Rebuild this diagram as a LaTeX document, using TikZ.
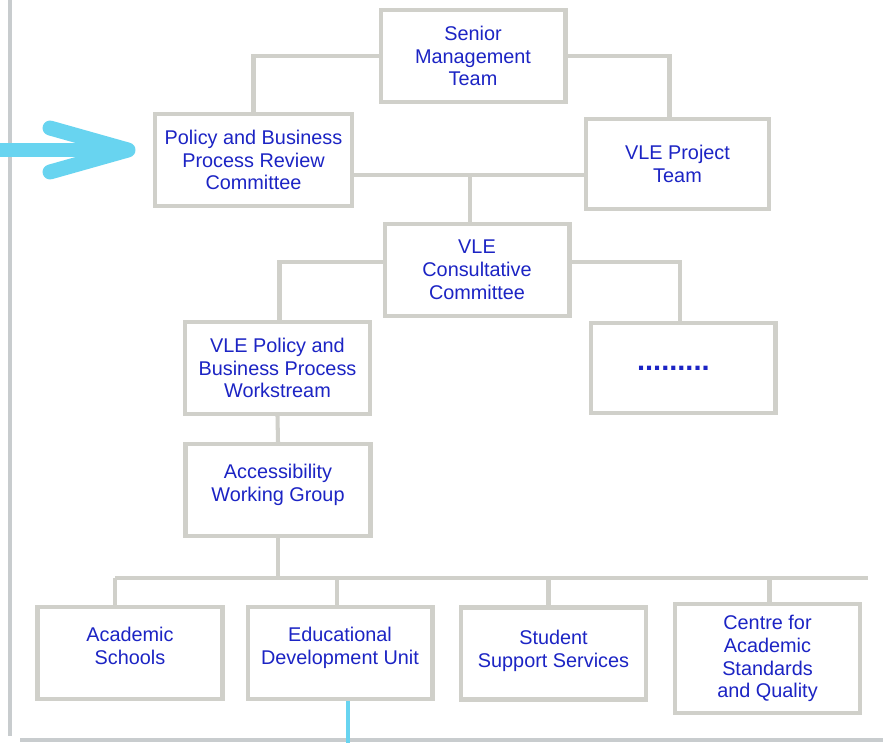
\documentclass[tikz,border=0pt]{standalone}
\usepackage{fontspec}
\setmainfont{Liberation Sans}
\usetikzlibrary{calc}
\definecolor{boxgrey}{RGB}{208,208,202}
\definecolor{rulegrey}{RGB}{200,204,206}
\definecolor{textblue}{RGB}{28,36,196}
\definecolor{pointer}{RGB}{104,212,240}
\tikzset{
  orgfig/.style={x=0.02cm,y=-0.02cm,
    every node/.style={font=\fontsize{11.3}{13}\selectfont,align=center,text=textblue}},
  unit/.style={draw=boxgrey,line width=2.3pt,fill=white,inner sep=2pt,
    minimum width=3.7cm,minimum height=1.84cm},
  orgline/.style={draw=boxgrey,line width=2.3pt},
  rulerline/.style={draw=rulegrey,line width=2pt},
  cyanline/.style={draw=pointer,line width=2.8pt},
  bigarrow/.style={draw=pointer,line width=8.5pt,line cap=round,line join=round},
}

\begin{document}
\begin{tikzpicture}[orgfig]
    \useasboundingbox[fill=white] (0,0) rectangle (883,743);
    % page rules and the pointer
    \draw[rulerline] (10,0) -- (10,736);
    \draw[rulerline] (20,740) -- (883,740);
    \draw[bigarrow] (-10,150) -- (126,150);
    \draw[bigarrow] (50,128) -- (128,150) -- (50,172);

    \node[unit] (smt) at (473,56) {Senior\\Management\\Team};
    \node[unit,minimum width=3.94cm] (pbrc) at (253.5,160)
      {Policy and Business\\Process Review\\Committee};
    \node[unit,minimum width=3.66cm,minimum height=1.8cm] (vpt) at (677.5,164)
      {VLE Project\\Team};
    \node[unit] (vcc) at (477,270) {VLE\\Consultative\\Committee};
    \node[unit] (wsp) at (277.5,368)
      {VLE Policy and\\Business Process\\Workstream};
    \node[unit,minimum height=1.8cm] (more) at (683,368)
      {\fontsize{16.5}{16}\selectfont\textbf{.........}\hspace{11pt}};
    \node[unit] (awg) at (278,490) {Accessibility\\Working Group\\[-5pt]};
    \node[unit] (acs) at (130,653) {Academic\\Schools\\[-5pt]};
    \node[unit] (edu) at (340,653) {Educational\\Development Unit\\[-5pt]};
    \node[unit] (sss) at (553.5,653.5) {Student\\Support Services\\[-8pt]};
    \node[unit,minimum height=2.18cm] (casq) at (767.5,658.5)
      {Centre for\\Academic\\Standards\\and Quality};

    \draw[orgline] (smt.west) -| (pbrc.north);
    \draw[orgline] (smt.east) -| ($(vpt.north)+(-8,0)$);
    \coordinate (mid) at (470,175);
    \draw[orgline] (pbrc.east |- mid) -- (vpt.west |- mid);
    \draw[orgline] (mid) -- (mid |- vcc.north);
    \draw[orgline] ($(vcc.west)+(0,-8)$) -| ($(wsp.north)+(2,0)$);
    \draw[orgline] ($(vcc.east)+(0,-8)$) -| ($(more.north)+(-3,0)$);
    \draw[orgline] (wsp.south) -- (awg.north);

    % bus to the bottom row
    \coordinate (busw) at (115,578);
    \coordinate (buse) at (868,578);
    \draw[orgline] (awg.south) -- (awg.south |- busw);
    \draw[orgline] (busw) -- (buse);
    \draw[orgline] (busw) -- (busw |- acs.north);
    \draw[orgline] ($(edu.north |- busw)+(-3,0)$) -- ($(edu.north)+(-3,0)$);
    \draw[orgline] ($(sss.north |- busw)+(-5,0)$) -- ($(sss.north)+(-5,0)$);
    \draw[orgline] ($(casq.north |- busw)+(2,0)$) -- ($(casq.north)+(2,0)$);

    \coordinate (tail) at (348,745);
    \draw[cyanline] (edu.south -| tail) -- (tail);
  \end{tikzpicture}
\end{document}
